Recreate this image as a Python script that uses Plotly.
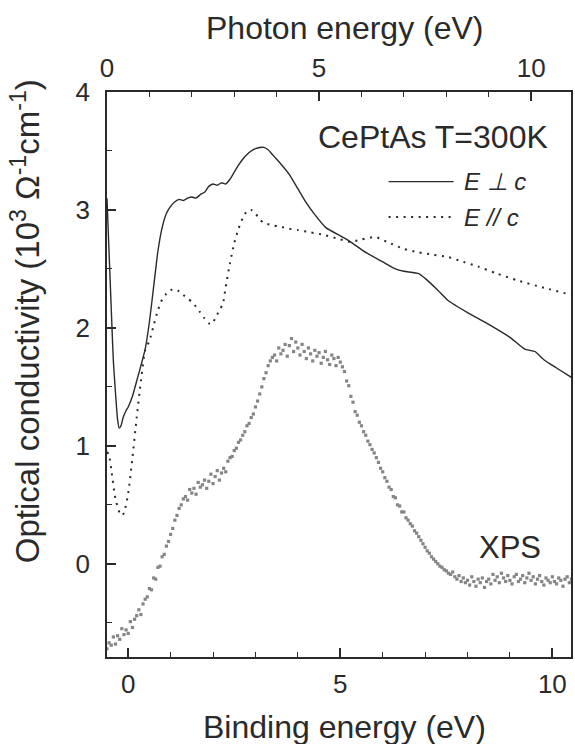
import plotly.graph_objects as go

# ---- data ----
perp_energy = [-0.5, -0.46, -0.42, -0.38, -0.35, -0.3, -0.25, -0.21, -0.17, -0.12, -0.05, 0.0, 0.1, 0.2, 0.3, 0.4,
               0.5, 0.6, 0.7, 0.8, 0.9, 1.0, 1.1, 1.2, 1.3, 1.4, 1.5, 1.6, 1.7, 1.8, 1.9, 2.0, 2.1, 2.2, 2.3,
               2.4, 2.5, 2.6, 2.7, 2.8, 2.9, 3.0, 3.1, 3.2, 3.3, 3.4, 3.5, 3.6, 3.8, 4.0, 4.2, 4.4, 4.66, 5.0,
               5.24, 5.6, 6.0, 6.3, 6.5, 6.85, 7.0, 7.3, 7.55, 8.0, 8.5, 9.0, 9.35, 9.59, 9.8, 10.1, 10.45]
perp_sigma = [3.10, 2.72, 2.35, 1.98, 1.72, 1.45, 1.22, 1.15, 1.17, 1.24, 1.30, 1.33, 1.42, 1.55, 1.68, 1.82,
              2.05, 2.35, 2.65, 2.85, 2.97, 3.03, 3.07, 3.09, 3.08, 3.10, 3.11, 3.10, 3.13, 3.15, 3.20, 3.22,
              3.21, 3.23, 3.22, 3.26, 3.32, 3.38, 3.43, 3.47, 3.50, 3.52, 3.53, 3.53, 3.51, 3.47, 3.43, 3.39,
              3.30, 3.18, 3.06, 2.96, 2.85, 2.78, 2.73, 2.64, 2.56, 2.50, 2.48, 2.46, 2.42, 2.32, 2.23, 2.13,
              2.03, 1.92, 1.82, 1.80, 1.73, 1.66, 1.58]

para_energy = [-0.5, -0.45, -0.4, -0.3, -0.2, -0.15, -0.1, 0.0, 0.1, 0.2, 0.3, 0.4, 0.5, 0.6, 0.7, 0.8, 0.9,
               1.0, 1.1, 1.2, 1.3, 1.4, 1.5, 1.6, 1.7, 1.8, 1.9, 1.96, 2.05, 2.15, 2.23, 2.3, 2.4, 2.5, 2.6,
               2.7, 2.8, 2.9, 3.0, 3.1, 3.2, 3.4, 3.56, 3.8, 4.0, 4.3, 4.6, 5.0, 5.24, 5.5, 5.83, 6.1, 6.5,
               6.85, 7.2, 7.55, 7.9, 8.25, 8.7, 9.2, 9.8, 10.45]
para_sigma = [0.95, 0.92, 0.80, 0.55, 0.43, 0.41, 0.43, 0.60, 0.90, 1.24, 1.55, 1.81, 1.89, 2.02, 2.15, 2.24,
              2.29, 2.32, 2.33, 2.31, 2.28, 2.25, 2.22, 2.18, 2.13, 2.08, 2.04, 2.03, 2.08, 2.15, 2.20, 2.35,
              2.55, 2.72, 2.84, 2.93, 2.99, 3.00, 2.97, 2.92, 2.89, 2.87, 2.86, 2.84, 2.83, 2.81, 2.79, 2.75,
              2.73, 2.75, 2.77, 2.73, 2.67, 2.64, 2.62, 2.60, 2.56, 2.52, 2.46, 2.40, 2.34, 2.28]

xps_energy = [
    -0.50, -0.45, -0.40, -0.35, -0.30, -0.25, -0.20, -0.15, -0.10, -0.05,
    0.00, 0.05, 0.10, 0.15, 0.20, 0.25, 0.30, 0.35, 0.40, 0.45,
    0.50, 0.55, 0.60, 0.65, 0.70, 0.75, 0.80, 0.85, 0.90, 0.95,
    1.00, 1.05, 1.10, 1.15, 1.20, 1.25, 1.30, 1.35, 1.40, 1.45,
    1.50, 1.55, 1.60, 1.65, 1.70, 1.75, 1.80, 1.85, 1.90, 1.95,
    2.00, 2.05, 2.10, 2.15, 2.20, 2.25, 2.30, 2.35, 2.40, 2.45,
    2.50, 2.55, 2.60, 2.65, 2.70, 2.75, 2.80, 2.85, 2.90, 2.95,
    3.00, 3.05, 3.10, 3.15, 3.20, 3.25, 3.30, 3.35, 3.40, 3.45,
    3.50, 3.55, 3.60, 3.65, 3.70, 3.75, 3.80, 3.85, 3.90, 3.95,
    4.00, 4.05, 4.10, 4.15, 4.20, 4.25, 4.30, 4.35, 4.40, 4.45,
    4.50, 4.55, 4.60, 4.65, 4.70, 4.75, 4.80, 4.85, 4.90, 4.95,
    5.00, 5.05, 5.10, 5.15, 5.20, 5.25, 5.30, 5.35, 5.40, 5.45,
    5.50, 5.55, 5.60, 5.65, 5.70, 5.75, 5.80, 5.85, 5.90, 5.95,
    6.00, 6.05, 6.10, 6.15, 6.20, 6.25, 6.30, 6.35, 6.40, 6.45,
    6.50, 6.55, 6.60, 6.65, 6.70, 6.75, 6.80, 6.85, 6.90, 6.95,
    7.00, 7.05, 7.10, 7.15, 7.20, 7.25, 7.30, 7.35, 7.40, 7.45,
    7.50, 7.55, 7.60, 7.65, 7.70, 7.75, 7.80, 7.85, 7.90, 7.95,
    8.00, 8.05, 8.10, 8.15, 8.20, 8.25, 8.30, 8.35, 8.40, 8.45,
    8.50, 8.55, 8.60, 8.65, 8.70, 8.75, 8.80, 8.85, 8.90, 8.95,
    9.00, 9.05, 9.10, 9.15, 9.20, 9.25, 9.30, 9.35, 9.40, 9.45,
    9.50, 9.55, 9.60, 9.65, 9.70, 9.75, 9.80, 9.85, 9.90, 9.95,
    10.00, 10.05, 10.10, 10.15, 10.20, 10.25, 10.30, 10.35, 10.40, 10.45]
xps_signal = [
    -0.72, -0.67, -0.69, -0.62, -0.68, -0.61, -0.64, -0.55, -0.60, -0.56,
    -0.59, -0.49, -0.54, -0.47, -0.44, -0.39, -0.43, -0.34, -0.30, -0.28,
    -0.21, -0.22, -0.12, -0.13, -0.03, -0.02, 0.06, 0.08, 0.15, 0.19,
    0.25, 0.30, 0.37, 0.41, 0.47, 0.50, 0.55, 0.57, 0.54, 0.63,
    0.60, 0.64, 0.59, 0.69, 0.65, 0.67, 0.71, 0.64, 0.70, 0.76,
    0.68, 0.74, 0.79, 0.71, 0.77, 0.81, 0.78, 0.87, 0.90, 0.91,
    0.96, 0.98, 1.03, 1.05, 1.09, 1.12, 1.17, 1.19, 1.24, 1.27,
    1.33, 1.38, 1.44, 1.50, 1.57, 1.62, 1.68, 1.72, 1.75, 1.77,
    1.72, 1.83, 1.78, 1.81, 1.86, 1.76, 1.85, 1.91, 1.80, 1.88,
    1.83, 1.77, 1.86, 1.80, 1.74, 1.83, 1.78, 1.72, 1.81, 1.76,
    1.79, 1.70, 1.75, 1.80, 1.73, 1.69, 1.77, 1.74, 1.68, 1.75,
    1.71, 1.67, 1.63, 1.55, 1.51, 1.42, 1.37, 1.29, 1.26, 1.20,
    1.17, 1.12, 1.09, 1.04, 1.01, 0.97, 0.94, 0.90, 0.86, 0.81,
    0.78, 0.73, 0.70, 0.65, 0.63, 0.57, 0.56, 0.50, 0.49, 0.44,
    0.44, 0.39, 0.37, 0.34, 0.32, 0.28, 0.26, 0.23, 0.20, 0.17,
    0.14, 0.11, 0.09, 0.06, 0.04, 0.02, 0.00, -0.02, -0.03, -0.05,
    -0.06, -0.08, -0.09, -0.07, -0.11, -0.13, -0.10, -0.15, -0.12, -0.16,
    -0.14, -0.18, -0.11, -0.15, -0.19, -0.13, -0.16, -0.12, -0.20, -0.15,
    -0.13, -0.17, -0.09, -0.14, -0.11, -0.16, -0.08, -0.12, -0.15, -0.10,
    -0.14, -0.17, -0.11, -0.09, -0.15, -0.13, -0.10, -0.16, -0.12, -0.08,
    -0.14, -0.11, -0.17, -0.13, -0.10, -0.15, -0.18, -0.12, -0.14, -0.16,
    -0.11, -0.15, -0.17, -0.12, -0.14, -0.19, -0.13, -0.11, -0.16, -0.13]

binding_ticks = [0, 5, 10]
photon_ticks = [0, 5, 10]
sigma_ticks = [0, 1, 2, 3, 4]

# ---- styling ----
INK = "#2a2a2a"
FONT = "Liberation Sans, Arial, sans-serif"

fig = go.Figure()
fig.add_trace(go.Scatter(x=xps_energy, y=xps_signal, mode="markers",
                         marker=dict(size=3.2, color="#858585", symbol="square"),
                         showlegend=False, hoverinfo="skip"))
fig.add_trace(go.Scatter(x=para_energy, y=para_sigma, mode="lines",
                         line=dict(color=INK, width=2, dash="2px,5.5px", shape="spline", smoothing=0.6),
                         showlegend=False, hoverinfo="skip"))
fig.add_trace(go.Scatter(x=perp_energy, y=perp_sigma, mode="lines",
                         line=dict(color=INK, width=1.4, shape="spline", smoothing=0.5),
                         showlegend=False, hoverinfo="skip"))
# invisible trace to activate the top (photon energy) axis
fig.add_trace(go.Scatter(x=[photon_ticks[0]], y=[None], xaxis="x2", yaxis="y", mode="markers",
                         showlegend=False, hoverinfo="skip"))

axis_common = dict(showline=True, linewidth=1.6, linecolor=INK, ticks="inside", ticklen=9,
                   tickwidth=1.5, tickcolor=INK, showgrid=False, zeroline=False,
                   tickfont=dict(family=FONT, size=26, color=INK))

fig.update_layout(
    width=575, height=744,
    margin=dict(l=107, r=2, t=92, b=87),
    paper_bgcolor="white", plot_bgcolor="white",
    font=dict(family=FONT, color=INK),
    xaxis=dict(range=[-0.5, 10.44], tickvals=binding_ticks, ticklabelstandoff=3,
               minor=dict(dtick=1, tick0=0, ticks="inside", ticklen=5, tickwidth=1.3, tickcolor=INK),
               **axis_common),
    xaxis2=dict(range=[0, 10.94], tickvals=photon_ticks, overlaying="x", side="top", anchor="y",
                ticklabelstandoff=3,
                minor=dict(dtick=1, tick0=0, ticks="inside", ticklen=5, tickwidth=1.3, tickcolor=INK),
                **axis_common),
    yaxis=dict(range=[-0.79, 4], tickvals=sigma_ticks, mirror=True, ticklabelstandoff=10,
               minor=dict(dtick=0.5, tick0=0, ticks="inside", ticklen=5, tickwidth=1.3, tickcolor=INK),
               **axis_common),
)

ann_font = dict(family=FONT, size=32, color=INK)
fig.add_annotation(text="Photon energy (eV)", xref="paper", yref="paper", x=0.513, y=1.113,
                   showarrow=False, xanchor="center", yanchor="middle", font=ann_font)
fig.add_annotation(text="Binding energy (eV)", xref="paper", yref="paper", x=0.512, y=-0.124,
                   showarrow=False, xanchor="center", yanchor="middle", font=ann_font)
fig.add_annotation(text="Optical conductivity (10<sup>3</sup> Ω<sup>-1</sup>cm<sup>-1</sup>)",
                   xref="paper", yref="paper", x=-0.176, y=0.595, textangle=-90,
                   showarrow=False, xanchor="center", yanchor="middle",
                   font=dict(family=FONT, size=33, color=INK))
fig.add_annotation(text="CePtAs T=300K", xref="x", yref="y", x=7.18, y=3.62,
                   showarrow=False, xanchor="center", yanchor="middle", font=ann_font)
fig.add_annotation(text="XPS", xref="x", yref="y", x=9.0, y=0.14,
                   showarrow=False, xanchor="center", yanchor="middle",
                   font=dict(family=FONT, size=31, color=INK))

leg_font = dict(family=FONT, size=24, color=INK, style="italic")
fig.add_shape(type="line", xref="x", yref="y", x0=6.14, x1=7.67, y0=3.24, y1=3.24,
              line=dict(color=INK, width=1.4))
fig.add_shape(type="line", xref="x", yref="y", x0=6.14, x1=7.67, y0=2.94, y1=2.94,
              line=dict(color=INK, width=2, dash="2px,5.5px"))
fig.add_annotation(text="E ⊥ c", xref="x", yref="y", x=7.86, y=3.24, showarrow=False,
                   xanchor="left", yanchor="middle", font=leg_font)
fig.add_annotation(text="E // c", xref="x", yref="y", x=7.86, y=2.94, showarrow=False,
                   xanchor="left", yanchor="middle", font=leg_font)

fig.write_html("out.html")
